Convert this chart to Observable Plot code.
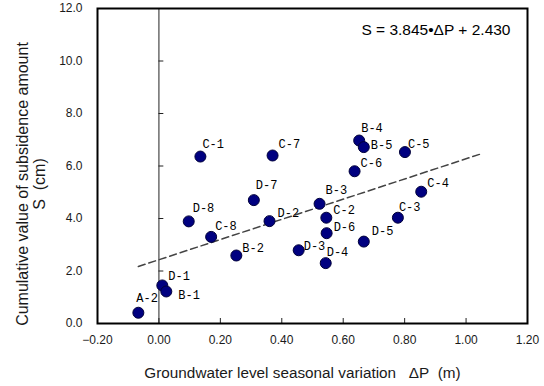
<!DOCTYPE html>
<html><head><meta charset="utf-8">
<script src="https://cdn.jsdelivr.net/npm/d3@7"></script>
<script src="https://cdn.jsdelivr.net/npm/@observablehq/plot@0.6"></script>
<style>body{margin:0;background:#fff}</style>
</head><body><div id="chart"></div>
<script>
// ---- data ----
const ids        = ["A-2","D-1","B-1","D-8","C-8","B-2","D-7","D-2","D-3","B-3","C-2","D-6","D-4","D-5","C-3","C-4","C-1","C-7","B-4","B-5","C-5","C-6"];
const deltaP     = [-0.067,0.011,0.024,0.097,0.170,0.252,0.309,0.360,0.455,0.523,0.545,0.546,0.543,0.667,0.778,0.854,0.135,0.370,0.652,0.667,0.801,0.637];
const subsidence = [0.41,1.45,1.22,3.89,3.30,2.59,4.70,3.90,2.79,4.56,4.03,3.44,2.30,3.12,4.03,5.02,6.36,6.40,6.97,6.72,6.53,5.80];
const xTicks = [-0.2,0,0.2,0.4,0.6,0.8,1.0,1.2];
const yTicks = [0,2,4,6,8,10,12];
const slope = 3.845, intercept = 2.430;
const fitRange = [-0.067, 1.055];
const equation = "S = 3.845\u2022\u0394P + 2.430";
const xTitle = "Groundwater level seasonal variation\u00a0\u00a0\u00a0\u0394P\u00a0\u00a0(m)";
const yTitle1 = "Cumulative value of subsidence amount";
const yTitle2 = "S\u00a0\u00a0(cm)";

// ---- label placement (style, pixel offsets) ----
const labelOffset = {
  "A-2":[-2,-15],"D-1":[6,-9],"B-1":[12,4],"D-8":[4,-13],"C-8":[4,-11],"B-2":[6,-7],
  "D-7":[2,-15],"D-2":[8,-8],"D-3":[5,-4],"B-3":[6,-14],"C-2":[7,-8],"D-6":[7,-6],
  "D-4":[1,-11],"D-5":[8,-10],"C-3":[1,-11],"C-4":[6,-9],"C-1":[2,-12],"C-7":[6,-11],
  "B-4":[2,-12],"B-5":[7,-2],"C-5":[3,-8],"C-6":[6,-8]
};

const data = ids.map((id,i)=>({id, dP: deltaP[i], S: subsidence[i]}));
const fit = fitRange.map(x=>({x, y: slope*x + intercept}));

const labelMarks = data.map(d => Plot.text([d], {
  x:"dP", y:"S", text:"id", dx: labelOffset[d.id][0], dy: labelOffset[d.id][1],
  textAnchor:"start", lineAnchor:"middle", fontFamily:"Liberation Mono, monospace", fontSize:12, fill:"#000"
}));

const chart = Plot.plot({
  width:544, height:386,
  marginLeft:97, marginRight:17, marginTop:8, marginBottom:63,
  x:{domain:[-0.2,1.2]},
  y:{domain:[0,12]},
  style:{fontFamily:"'Liberation Sans', Arial, sans-serif", fontSize:"12px", color:"#1a1a1a", background:"#fff"},
  marks:[
    Plot.axisX(xTicks, {tickSize:0, tickPadding:12, tickFormat:d3.format(".2f"), label:null, fontSize:12}),
    Plot.axisY(yTicks, {tickSize:0, tickPadding:15, tickFormat:d3.format(".1f"), label:null, fontSize:12}),
    Plot.ruleX([0], {stroke:"#222", strokeWidth:1}),
    Plot.ruleY(yTicks, {x1:0, x2:0.016, stroke:"#222", strokeWidth:1}),
    Plot.ruleX(xTicks, {y1:0, y2:0.19, stroke:"#222", strokeWidth:1}),
    Plot.line(fit, {x:"x", y:"y", stroke:"#444", strokeWidth:1.5, strokeDasharray:"7,4"}),
    Plot.dot(data, {x:"dP", y:"S", r:5.5, fill:"#000080", stroke:"#00003a", strokeWidth:1}),
    ...labelMarks,
    Plot.text([equation], {frameAnchor:"top-right", dx:-17, dy:22, textAnchor:"end", lineAnchor:"middle", fontSize:15.5, fill:"#000"}),
    Plot.text([xTitle], {frameAnchor:"bottom", dx:-10, dy:50, textAnchor:"middle", lineAnchor:"middle", fontSize:15.3, fill:"#1a1a1a"}),
    Plot.text([yTitle1], {frameAnchor:"left", rotate:-90, dx:-75, dy:18, textAnchor:"middle", lineAnchor:"middle", fontSize:16, fill:"#1a1a1a"}),
    Plot.text([yTitle2], {frameAnchor:"left", rotate:-90, dx:-58, dy:18, textAnchor:"middle", lineAnchor:"middle", fontSize:16, fill:"#1a1a1a"}),
    Plot.frame({stroke:"#000", strokeWidth:2})
  ]
});
document.getElementById("chart").appendChild(chart);
</script>
</body></html>
